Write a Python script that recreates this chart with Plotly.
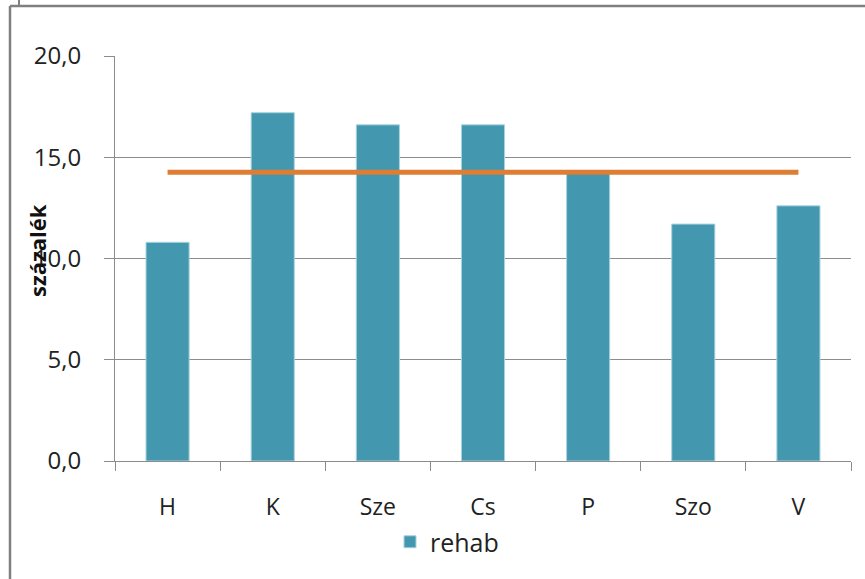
import plotly.graph_objects as go

categories = ["H", "K", "Sze", "Cs", "P", "Szo", "V"]
rehab = [10.8, 17.2, 16.6, 16.6, 14.2, 11.7, 12.6]
average = [14.26] * len(categories)
y_ticks = [0, 5, 10, 15, 20]

W, H = 865, 579
L, R, T, B = 115, 14, 56, 118
pw, ph = W - L - R, H - T - B


def px(x):
    return (x - L) / pw


def py(y):
    return (H - B - y) / ph


fig = go.Figure()
fig.add_trace(go.Bar(
    x=categories, y=rehab, name="rehab",
    marker=dict(color="#4398B0", line=dict(color="#A9D3DF", width=1)),
))
fig.add_trace(go.Scatter(
    x=categories, y=average, mode="lines", showlegend=False,
    line=dict(color="#DD7E34", width=5),
))

grey = "#8C8C8C"
font = "Open Sans, Lato, sans-serif"
fig.update_layout(
    width=W, height=H,
    margin=dict(l=L, r=R, t=T, b=B, pad=0),
    paper_bgcolor="white", plot_bgcolor="white",
    bargap=0.59,
    font=dict(family=font, size=23, color="#222222"),
    xaxis=dict(
        type="category", showline=True, linecolor=grey, linewidth=1,
        ticks="outside", tickson="boundaries", ticklen=9, tickcolor=grey,
        showgrid=False, tickfont=dict(size=23), ticklabelstandoff=25,
    ),
    yaxis=dict(
        range=[0, 20], tickvals=y_ticks, tickformat=".1f",
        showline=True, linecolor=grey, linewidth=1,
        ticks="outside", ticklen=10, tickcolor=grey,
        showgrid=True, gridcolor=grey, gridwidth=1,
        zeroline=False, tickfont=dict(size=24), ticklabelstandoff=18,
    ),
    separators=",.",
    showlegend=True,
    legend=dict(
        orientation="h", x=px(390), xanchor="left", y=py(519), yanchor="top",
        font=dict(size=25), itemwidth=30, bgcolor="rgba(0,0,0,0)",
    ),
    annotations=[dict(
        text="<b>százalék</b>", textangle=-90, showarrow=False,
        xref="paper", yref="paper", x=px(37), y=py(251),
        xanchor="center", yanchor="middle", font=dict(size=22, color="#111111"),
    )],
    shapes=[
        dict(type="line", xref="paper", yref="paper", x0=px(10), x1=px(10),
             y0=py(6), y1=py(579), line=dict(color="#808080", width=2.5)),
        dict(type="line", xref="paper", yref="paper", x0=px(10), x1=px(866),
             y0=py(6), y1=py(6), line=dict(color="#808080", width=2.5)),
        dict(type="line", xref="paper", yref="paper", x0=px(19), x1=px(19),
             y0=py(0), y1=py(6), line=dict(color="#808080", width=2)),
    ],
)

fig.write_html("out.html", config={"displayModeBar": False},
               post_script="document.body.style.margin='0';")
